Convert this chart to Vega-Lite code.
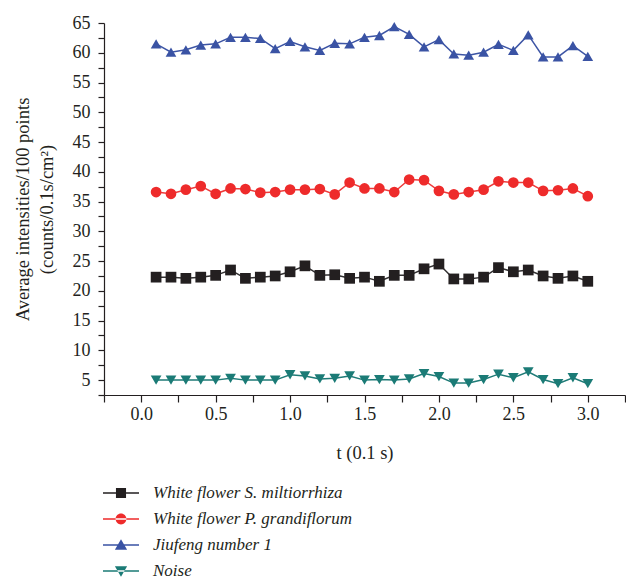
{
  "$schema": "https://vega.github.io/schema/vega-lite/v6.json",
  "width": 521,
  "height": 372,
  "autosize": {"type": "none"},
  "padding": {"left": 104, "top": 23, "right": 1, "bottom": 184},
  "background": "white",
  "config": {
    "view": {"stroke": null},
    "font": "Liberation Serif",
    "axis": {
      "labelFont": "Liberation Serif",
      "titleFont": "Liberation Serif",
      "labelFontSize": 18,
      "titleFontSize": 18.5,
      "labelColor": "#231f20",
      "titleColor": "#231f20",
      "titleFontWeight": "normal",
      "domain": true,
      "ticks": true,
      "domainColor": "#231f20",
      "domainWidth": 1.2,
      "tickColor": "#231f20",
      "tickWidth": 1.2,
      "grid": false
    }
  },
  "data": {
    "values": [
      {"s": "White flower S. miltiorrhiza", "t": 0.1, "v": 22.3},
      {"s": "White flower S. miltiorrhiza", "t": 0.2, "v": 22.3},
      {"s": "White flower S. miltiorrhiza", "t": 0.3, "v": 22.1},
      {"s": "White flower S. miltiorrhiza", "t": 0.4, "v": 22.3},
      {"s": "White flower S. miltiorrhiza", "t": 0.5, "v": 22.6},
      {"s": "White flower S. miltiorrhiza", "t": 0.6, "v": 23.5},
      {"s": "White flower S. miltiorrhiza", "t": 0.7, "v": 22.1},
      {"s": "White flower S. miltiorrhiza", "t": 0.8, "v": 22.3},
      {"s": "White flower S. miltiorrhiza", "t": 0.9, "v": 22.5},
      {"s": "White flower S. miltiorrhiza", "t": 1.0, "v": 23.2},
      {"s": "White flower S. miltiorrhiza", "t": 1.1, "v": 24.2},
      {"s": "White flower S. miltiorrhiza", "t": 1.2, "v": 22.6},
      {"s": "White flower S. miltiorrhiza", "t": 1.3, "v": 22.7},
      {"s": "White flower S. miltiorrhiza", "t": 1.4, "v": 22.1},
      {"s": "White flower S. miltiorrhiza", "t": 1.5, "v": 22.3},
      {"s": "White flower S. miltiorrhiza", "t": 1.6, "v": 21.6},
      {"s": "White flower S. miltiorrhiza", "t": 1.7, "v": 22.6},
      {"s": "White flower S. miltiorrhiza", "t": 1.8, "v": 22.6},
      {"s": "White flower S. miltiorrhiza", "t": 1.9, "v": 23.7},
      {"s": "White flower S. miltiorrhiza", "t": 2.0, "v": 24.5},
      {"s": "White flower S. miltiorrhiza", "t": 2.1, "v": 22.0},
      {"s": "White flower S. miltiorrhiza", "t": 2.2, "v": 22.0},
      {"s": "White flower S. miltiorrhiza", "t": 2.3, "v": 22.3},
      {"s": "White flower S. miltiorrhiza", "t": 2.4, "v": 23.9},
      {"s": "White flower S. miltiorrhiza", "t": 2.5, "v": 23.2},
      {"s": "White flower S. miltiorrhiza", "t": 2.6, "v": 23.5},
      {"s": "White flower S. miltiorrhiza", "t": 2.7, "v": 22.5},
      {"s": "White flower S. miltiorrhiza", "t": 2.8, "v": 22.1},
      {"s": "White flower S. miltiorrhiza", "t": 2.9, "v": 22.5},
      {"s": "White flower S. miltiorrhiza", "t": 3.0, "v": 21.6},
      {"s": "White flower P. grandiflorum", "t": 0.1, "v": 36.6},
      {"s": "White flower P. grandiflorum", "t": 0.2, "v": 36.3},
      {"s": "White flower P. grandiflorum", "t": 0.3, "v": 37.0},
      {"s": "White flower P. grandiflorum", "t": 0.4, "v": 37.6},
      {"s": "White flower P. grandiflorum", "t": 0.5, "v": 36.3},
      {"s": "White flower P. grandiflorum", "t": 0.6, "v": 37.2},
      {"s": "White flower P. grandiflorum", "t": 0.7, "v": 37.1},
      {"s": "White flower P. grandiflorum", "t": 0.8, "v": 36.5},
      {"s": "White flower P. grandiflorum", "t": 0.9, "v": 36.6},
      {"s": "White flower P. grandiflorum", "t": 1.0, "v": 37.0},
      {"s": "White flower P. grandiflorum", "t": 1.1, "v": 37.0},
      {"s": "White flower P. grandiflorum", "t": 1.2, "v": 37.1},
      {"s": "White flower P. grandiflorum", "t": 1.3, "v": 36.2},
      {"s": "White flower P. grandiflorum", "t": 1.4, "v": 38.2},
      {"s": "White flower P. grandiflorum", "t": 1.5, "v": 37.2},
      {"s": "White flower P. grandiflorum", "t": 1.6, "v": 37.2},
      {"s": "White flower P. grandiflorum", "t": 1.7, "v": 36.6},
      {"s": "White flower P. grandiflorum", "t": 1.8, "v": 38.7},
      {"s": "White flower P. grandiflorum", "t": 1.9, "v": 38.6},
      {"s": "White flower P. grandiflorum", "t": 2.0, "v": 36.8},
      {"s": "White flower P. grandiflorum", "t": 2.1, "v": 36.2},
      {"s": "White flower P. grandiflorum", "t": 2.2, "v": 36.6},
      {"s": "White flower P. grandiflorum", "t": 2.3, "v": 37.0},
      {"s": "White flower P. grandiflorum", "t": 2.4, "v": 38.4},
      {"s": "White flower P. grandiflorum", "t": 2.5, "v": 38.2},
      {"s": "White flower P. grandiflorum", "t": 2.6, "v": 38.2},
      {"s": "White flower P. grandiflorum", "t": 2.7, "v": 36.8},
      {"s": "White flower P. grandiflorum", "t": 2.8, "v": 36.9},
      {"s": "White flower P. grandiflorum", "t": 2.9, "v": 37.2},
      {"s": "White flower P. grandiflorum", "t": 3.0, "v": 35.9},
      {"s": "Jiufeng number 1", "t": 0.1, "v": 61.5},
      {"s": "Jiufeng number 1", "t": 0.2, "v": 60.1},
      {"s": "Jiufeng number 1", "t": 0.3, "v": 60.5},
      {"s": "Jiufeng number 1", "t": 0.4, "v": 61.3},
      {"s": "Jiufeng number 1", "t": 0.5, "v": 61.5},
      {"s": "Jiufeng number 1", "t": 0.6, "v": 62.6},
      {"s": "Jiufeng number 1", "t": 0.7, "v": 62.6},
      {"s": "Jiufeng number 1", "t": 0.8, "v": 62.4},
      {"s": "Jiufeng number 1", "t": 0.9, "v": 60.7},
      {"s": "Jiufeng number 1", "t": 1.0, "v": 61.9},
      {"s": "Jiufeng number 1", "t": 1.1, "v": 61.0},
      {"s": "Jiufeng number 1", "t": 1.2, "v": 60.4},
      {"s": "Jiufeng number 1", "t": 1.3, "v": 61.6},
      {"s": "Jiufeng number 1", "t": 1.4, "v": 61.5},
      {"s": "Jiufeng number 1", "t": 1.5, "v": 62.6},
      {"s": "Jiufeng number 1", "t": 1.6, "v": 62.9},
      {"s": "Jiufeng number 1", "t": 1.7, "v": 64.4},
      {"s": "Jiufeng number 1", "t": 1.8, "v": 63.1},
      {"s": "Jiufeng number 1", "t": 1.9, "v": 61.0},
      {"s": "Jiufeng number 1", "t": 2.0, "v": 62.2},
      {"s": "Jiufeng number 1", "t": 2.1, "v": 59.8},
      {"s": "Jiufeng number 1", "t": 2.2, "v": 59.6},
      {"s": "Jiufeng number 1", "t": 2.3, "v": 60.1},
      {"s": "Jiufeng number 1", "t": 2.4, "v": 61.4},
      {"s": "Jiufeng number 1", "t": 2.5, "v": 60.4},
      {"s": "Jiufeng number 1", "t": 2.6, "v": 63.0},
      {"s": "Jiufeng number 1", "t": 2.7, "v": 59.3},
      {"s": "Jiufeng number 1", "t": 2.8, "v": 59.3},
      {"s": "Jiufeng number 1", "t": 2.9, "v": 61.2},
      {"s": "Jiufeng number 1", "t": 3.0, "v": 59.4},
      {"s": "Noise", "t": 0.1, "v": 5.0},
      {"s": "Noise", "t": 0.2, "v": 5.0},
      {"s": "Noise", "t": 0.3, "v": 5.0},
      {"s": "Noise", "t": 0.4, "v": 5.0},
      {"s": "Noise", "t": 0.5, "v": 5.0},
      {"s": "Noise", "t": 0.6, "v": 5.3},
      {"s": "Noise", "t": 0.7, "v": 5.0},
      {"s": "Noise", "t": 0.8, "v": 5.0},
      {"s": "Noise", "t": 0.9, "v": 5.0},
      {"s": "Noise", "t": 1.0, "v": 5.9},
      {"s": "Noise", "t": 1.1, "v": 5.7},
      {"s": "Noise", "t": 1.2, "v": 5.2},
      {"s": "Noise", "t": 1.3, "v": 5.3},
      {"s": "Noise", "t": 1.4, "v": 5.7},
      {"s": "Noise", "t": 1.5, "v": 5.0},
      {"s": "Noise", "t": 1.6, "v": 5.1},
      {"s": "Noise", "t": 1.7, "v": 5.0},
      {"s": "Noise", "t": 1.8, "v": 5.2},
      {"s": "Noise", "t": 1.9, "v": 6.1},
      {"s": "Noise", "t": 2.0, "v": 5.6},
      {"s": "Noise", "t": 2.1, "v": 4.5},
      {"s": "Noise", "t": 2.2, "v": 4.5},
      {"s": "Noise", "t": 2.3, "v": 5.1},
      {"s": "Noise", "t": 2.4, "v": 6.0},
      {"s": "Noise", "t": 2.5, "v": 5.4},
      {"s": "Noise", "t": 2.6, "v": 6.4},
      {"s": "Noise", "t": 2.7, "v": 5.1},
      {"s": "Noise", "t": 2.8, "v": 4.4},
      {"s": "Noise", "t": 2.9, "v": 5.4},
      {"s": "Noise", "t": 3.0, "v": 4.4}
    ]
  },
  "encoding": {
    "x": {
      "field": "t",
      "type": "quantitative",
      "scale": {"domain": [-0.25, 3.25], "nice": false, "zero": false},
      "axis": {
        "title": "t (0.1 s)",
        "values": [-0.25, 0, 0.25, 0.5, 0.75, 1, 1.25, 1.5, 1.75, 2, 2.25, 2.5, 2.75, 3, 3.25],
        "labelExpr": "datum.value % 0.5 == 0 ? format(datum.value, '.1f') : ''",
        "tickSize": 7,
        "labelPadding": 3,
        "titlePadding": 20,
        "labelFlush": false,
        "labelOverlap": false
      }
    },
    "y": {
      "field": "v",
      "type": "quantitative",
      "scale": {"domain": [2.5, 65], "nice": false, "zero": false},
      "axis": {
        "title": ["Average intensities/100 points", "(counts/0.1s/cm²)"],
        "titleLineHeight": 24,
        "values": [2.5, 5, 7.5, 10, 12.5, 15, 17.5, 20, 22.5, 25, 27.5, 30, 32.5, 35, 37.5, 40, 42.5, 45, 47.5, 50, 52.5, 55, 57.5, 60, 62.5, 65],
        "labelExpr": "datum.value % 5 == 0 ? format(datum.value, 'd') : ''",
        "tickSize": 6,
        "labelPadding": 8,
        "titlePadding": 16,
        "labelFlush": false,
        "labelOverlap": false
      }
    }
  },
  "layer": [
    {
      "mark": {"type": "line", "strokeWidth": 1.5},
      "encoding": {
        "color": {
          "field": "s",
          "type": "nominal",
          "scale": {
            "domain": ["White flower S. miltiorrhiza", "White flower P. grandiflorum", "Jiufeng number 1", "Noise"],
            "range": ["#333132", "#ee3b3b", "#3d55a5", "#1f7b77"]
          },
          "legend": null
        }
      }
    },
    {
      "mark": {"type": "point", "filled": true, "opacity": 1, "size": 115},
      "encoding": {
        "color": {
          "field": "s",
          "type": "nominal",
          "scale": {
            "domain": ["White flower S. miltiorrhiza", "White flower P. grandiflorum", "Jiufeng number 1", "Noise"],
            "range": ["#231f20", "#ee2b2b", "#3a53a4", "#1b7b76"]
          },
          "legend": null
        },
        "shape": {
          "field": "s",
          "type": "nominal",
          "scale": {
            "domain": ["White flower S. miltiorrhiza", "White flower P. grandiflorum", "Jiufeng number 1", "Noise"],
            "range": ["square", "circle", "triangle-up", "triangle-down"]
          },
          "legend": null
        }
      }
    },
    {
      "transform": [{"filter": "datum.v > 1000"}],
      "mark": {"type": "point", "filled": true, "opacity": 1, "size": 1296},
      "encoding": {
        "color": {
          "field": "s",
          "type": "nominal",
          "scale": {
            "domain": ["White flower S. miltiorrhiza", "White flower P. grandiflorum", "Jiufeng number 1", "Noise"],
            "range": ["#231f20", "#ee2b2b", "#3a53a4", "#1b7b76"]
          },
          "legend": {
            "title": null,
            "orient": "none",
            "legendX": -1,
            "legendY": 452,
            "padding": 0,
            "symbolSize": 1296,
            "symbolStrokeWidth": 0,
            "rowPadding": -9.5,
            "labelOffset": 14,
            "labelFont": "Liberation Serif",
            "labelFontStyle": "italic",
            "labelFontSize": 17,
            "labelColor": "#231f20",
            "labelLimit": 460
          }
        },
        "shape": {
          "field": "s",
          "type": "nominal",
          "scale": {
            "domain": ["White flower S. miltiorrhiza", "White flower P. grandiflorum", "Jiufeng number 1", "Noise"],
            "range": [
              "M-1,-0.045H1V0.045H-1Z M-0.28,-0.28H0.28V0.28H-0.28Z",
              "M-1,-0.045H1V0.045H-1Z M-0.3,0A0.3,0.3 0 1,0 0.3,0A0.3,0.3 0 1,0 -0.3,0Z",
              "M-1,-0.045H1V0.045H-1Z M0,-0.32L0.34,0.26H-0.34Z",
              "M-1,-0.045H1V0.045H-1Z M0,0.32L0.34,-0.26H-0.34Z"
            ]
          },
          "legend": {
            "title": null,
            "orient": "none",
            "legendX": -1,
            "legendY": 452,
            "padding": 0,
            "symbolSize": 1296,
            "symbolStrokeWidth": 0,
            "rowPadding": -9.5,
            "labelOffset": 14,
            "labelFont": "Liberation Serif",
            "labelFontStyle": "italic",
            "labelFontSize": 17,
            "labelColor": "#231f20",
            "labelLimit": 460
          }
        }
      }
    }
  ],
  "resolve": {"scale": {"color": "independent", "shape": "independent"}}
}
